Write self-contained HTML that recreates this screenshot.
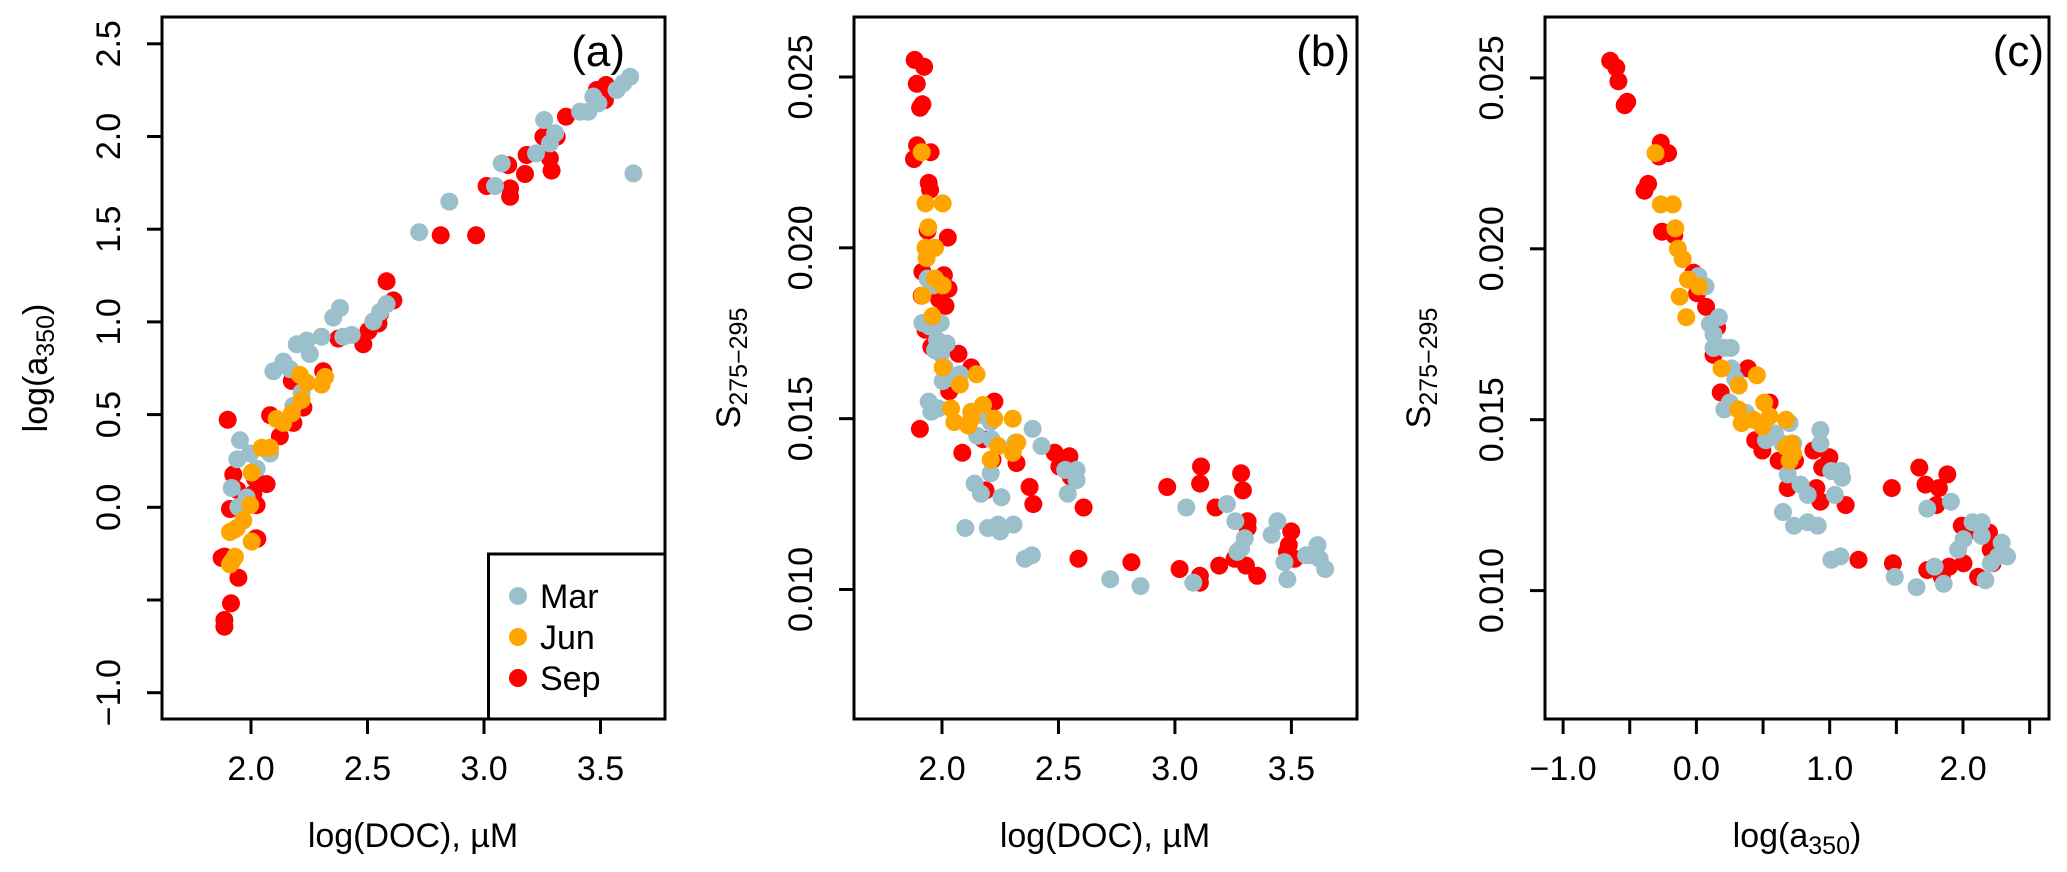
<!DOCTYPE html>
<html><head><meta charset="utf-8"><style>
html,body{margin:0;padding:0;background:#fff;}
svg{display:block;font-family:"Liberation Sans",Arial,sans-serif;}
</style></head><body>
<svg id="fig" width="2067" height="872" viewBox="0 0 2067 872" xmlns="http://www.w3.org/2000/svg"></svg>
<script>
// ---------- Panel (a): log(DOC) vs log(a350) ----------
const aMarX=[1.953,1.941,1.996,1.917,1.946,1.981,2.024,2.082,2.096,2.139,2.168,2.196,2.239,2.253,2.303,2.353,2.382,2.396,2.432,2.525,2.554,2.582,2.182,2.217,2.722,2.851,3.047,3.076,3.258,3.283,3.305,3.223,3.412,3.448,3.469,3.491,3.569,3.598,3.627,3.641];
const aMarY=[0.362,0.259,0.290,0.104,0.001,0.053,0.208,0.290,0.734,0.786,0.745,0.879,0.899,0.827,0.920,1.023,1.075,0.920,0.930,1.002,1.054,1.096,0.548,0.620,1.484,1.649,1.733,1.855,2.089,1.963,2.017,1.909,2.134,2.134,2.215,2.179,2.251,2.287,2.322,1.801];
const aJunX=[1.910,1.938,1.967,2.003,1.996,2.003,2.046,2.082,2.110,2.139,2.175,2.217,2.210,2.239,2.303,2.318,1.910,1.931,1.927,1.918];
const aJunY=[-0.133,-0.113,-0.071,-0.185,0.012,0.187,0.321,0.321,0.476,0.455,0.507,0.579,0.714,0.672,0.662,0.703,-0.308,-0.267,-0.122,-0.293];
const aSepX=[1.900,1.924,1.910,1.941,2.010,2.024,2.017,2.067,2.027,1.874,1.924,1.946,2.082,2.124,2.182,2.225,2.175,2.310,2.375,2.482,2.504,2.547,2.582,2.611,2.554,1.886,1.914,1.886,1.886,2.021,2.814,2.966,3.011,3.104,3.112,3.112,3.176,3.183,3.283,3.290,3.255,3.312,3.352,3.484,3.524,3.519];
const aSepY=[0.472,0.177,-0.009,0.094,0.073,0.012,0.156,0.125,-0.170,-0.273,-0.277,-0.380,0.497,0.383,0.455,0.538,0.682,0.734,0.910,0.879,0.951,0.992,1.219,1.116,1.044,-0.266,-0.518,-0.608,-0.644,-0.167,1.467,1.467,1.733,1.846,1.720,1.675,1.798,1.900,1.882,1.816,1.999,1.999,2.107,2.251,2.278,2.197];
const aXTicks=[2.0,2.5,3.0,3.5];
const aXLabels=["2.0","2.5","3.0","3.5"];
const aYTicks=[-1.0,-0.5,0.0,0.5,1.0,1.5,2.0,2.5];
const aYLabels=["\u22121.0","","0.0","0.5","1.0","1.5","2.0","2.5"];

// ---------- Panel (b): log(DOC) vs S275-295 ----------
const bMarX=[1.938,1.962,1.916,1.946,1.995,1.979,2.020,1.970,1.995,2.011,2.003,2.077,2.036,1.943,1.954,1.984,2.176,2.209,2.151,2.212,2.315,2.389,2.427,2.529,2.578,2.578,2.540,2.209,2.140,2.167,2.255,2.100,2.197,2.241,2.250,2.307,2.356,2.386,2.722,2.852,3.049,3.223,3.259,3.079,3.440,3.415,3.300,3.284,3.268,3.470,3.483,3.563,3.612,3.621,3.645,3.588];
const bMarY=[0.0191,0.0189,0.0178,0.0177,0.0178,0.0173,0.0172,0.0170,0.0169,0.0165,0.0161,0.0163,0.0162,0.0155,0.0152,0.0153,0.0151,0.0149,0.0145,0.0144,0.0143,0.0147,0.0142,0.0135,0.0135,0.0132,0.0128,0.0134,0.0131,0.0128,0.0127,0.0118,0.0118,0.0119,0.0117,0.0119,0.0109,0.0110,0.0103,0.0101,0.0124,0.0125,0.0120,0.0102,0.0120,0.0116,0.0115,0.0112,0.0111,0.0108,0.0103,0.0110,0.0113,0.0109,0.0106,0.0110];
const bJunX=[1.913,1.929,2.003,1.941,1.929,1.970,1.934,1.970,2.003,1.916,1.959,2.003,2.148,2.077,2.039,2.053,2.113,2.126,2.176,2.225,2.304,2.241,2.323,2.304,2.209,2.126];
const bJunY=[0.0228,0.0213,0.0213,0.0206,0.0200,0.0200,0.0197,0.0191,0.0189,0.0186,0.0180,0.0165,0.0163,0.0160,0.0153,0.0149,0.0148,0.0152,0.0154,0.0150,0.0150,0.0142,0.0143,0.0140,0.0138,0.0150];
const bSepX=[1.883,1.923,1.892,1.916,1.906,1.893,1.880,1.951,1.943,1.949,1.938,2.025,1.916,2.008,2.028,1.987,1.913,2.015,1.929,1.954,2.071,2.126,2.031,1.905,2.225,2.087,2.176,2.217,2.320,2.484,2.547,2.504,2.553,2.187,2.376,2.392,2.608,2.586,2.813,2.967,3.112,3.108,3.174,3.284,3.292,3.312,3.312,3.020,3.107,3.107,3.190,3.256,3.305,3.353,3.499,3.489,3.514,3.481];
const bSepY=[0.0255,0.0253,0.0248,0.0242,0.0241,0.0230,0.0226,0.0228,0.0219,0.0217,0.0205,0.0203,0.0193,0.0192,0.0188,0.0185,0.0186,0.0183,0.0176,0.0171,0.0169,0.0165,0.0158,0.0147,0.0155,0.0140,0.0144,0.0138,0.0137,0.0140,0.0139,0.0136,0.0133,0.0129,0.0130,0.0125,0.0124,0.0109,0.0108,0.0130,0.0136,0.0131,0.0124,0.0134,0.0129,0.0120,0.0118,0.0106,0.0104,0.0102,0.0107,0.0109,0.0107,0.0104,0.0117,0.0113,0.0109,0.0111];
const bXTicks=[2.0,2.5,3.0,3.5];
const bXLabels=["2.0","2.5","3.0","3.5"];
const sYTicks=[0.010,0.015,0.020,0.025];
const sYLabels=["0.010","0.015","0.020","0.025"];

// ---------- Panel (c): log(a350) vs S275-295 ----------
const cMarX=[0.014,0.068,0.101,0.169,0.128,0.128,0.209,0.258,0.264,0.291,0.250,0.209,0.373,0.590,0.699,0.522,0.645,0.726,0.685,0.781,0.835,0.930,0.930,1.012,1.085,1.093,1.039,0.650,0.732,0.835,0.911,1.012,1.080,1.488,1.651,1.732,1.909,1.787,1.855,1.963,2.004,2.072,2.140,2.140,2.168,2.208,2.263,2.290,2.331];
const cMarY=[0.0192,0.0189,0.0178,0.0180,0.0175,0.0171,0.0171,0.0171,0.0165,0.0162,0.0155,0.0153,0.0152,0.0146,0.0149,0.0144,0.0143,0.0143,0.0134,0.0131,0.0128,0.0147,0.0143,0.0135,0.0135,0.0133,0.0128,0.0123,0.0119,0.0120,0.0119,0.0109,0.0110,0.0104,0.0101,0.0124,0.0126,0.0107,0.0102,0.0112,0.0115,0.0120,0.0120,0.0116,0.0103,0.0108,0.0110,0.0114,0.0110];
const cJunX=[-0.307,-0.267,-0.177,-0.158,-0.139,-0.103,-0.063,0.019,-0.125,-0.076,0.188,0.454,0.318,0.509,0.313,0.340,0.427,0.549,0.672,0.495,0.713,0.672,0.726,0.699];
const cJunY=[0.0228,0.0213,0.0213,0.0206,0.0200,0.0197,0.0191,0.0189,0.0186,0.0180,0.0165,0.0163,0.0160,0.0155,0.0153,0.0149,0.0150,0.0151,0.0150,0.0148,0.0143,0.0142,0.0140,0.0138];
const cSepX=[-0.647,-0.601,-0.585,-0.538,-0.519,-0.267,-0.280,-0.212,-0.389,-0.362,-0.258,-0.166,-0.022,0.005,0.073,0.128,0.155,0.182,0.386,0.549,0.441,0.495,0.617,0.740,0.878,0.944,0.998,0.685,0.900,0.930,1.120,1.216,1.466,1.474,1.672,1.719,1.819,1.882,1.800,1.732,1.841,1.896,2.004,1.991,2.026,2.113,2.195,2.208,2.222];
const cSepY=[0.0255,0.0253,0.0249,0.0242,0.0243,0.0231,0.0227,0.0228,0.0217,0.0219,0.0205,0.0204,0.0193,0.0187,0.0183,0.0169,0.0177,0.0158,0.0165,0.0155,0.0144,0.0141,0.0138,0.0138,0.0141,0.0136,0.0139,0.0130,0.0130,0.0126,0.0125,0.0109,0.0130,0.0108,0.0136,0.0131,0.0130,0.0134,0.0125,0.0106,0.0104,0.0107,0.0108,0.0119,0.0117,0.0104,0.0117,0.0112,0.0108];
const cXTicks=[-1.0,-0.5,0.0,0.5,1.0,1.5,2.0,2.5];
const cXLabels=["\u22121.0","","0.0","","1.0","","2.0",""];

const legendLabels=["Mar","Jun","Sep"];
const COL={Mar:"#9bc0cc",Jun:"#ffa500",Sep:"#ff0000"};
const R=9;

const NS="http://www.w3.org/2000/svg";
const svg=document.getElementById('fig');
function mk(tag,attrs,parent,text){const e=document.createElementNS(NS,tag);for(const k in attrs)e.setAttribute(k,attrs[k]);if(text!==undefined)e.textContent=text;(parent||svg).appendChild(e);return e;}
function lin(d0,d1,r0,r1){return v=>r0+(v-d0)*(r1-r0)/(d1-d0);}

const TOP=17,BOT=719;
function panel(id,left,right,sx,sy,xTicks,xLabels,yTicks,yLabels,yTickX,series,tag,tagX){
  const g=mk('g',{});
  
  
  series.forEach(s=>{
    const sg=mk('g',{},g);
    
    
    for(let i=0;i<s.x.length;i++){
      const c=mk('circle',{cx:sx(s.x[i]).toFixed(1),cy:sy(s.y[i]).toFixed(1),r:R,fill:COL[s.name]},sg);
      
      
    }
  });
  const box=mk('rect',{x:left,y:TOP,width:right-left,height:BOT-TOP,fill:'none',stroke:'#000','stroke-width':3},g);
  
  
  const xa=mk('g',{},g);
  
  
  xTicks.forEach((t,i)=>{
    const x=sx(t);
    mk('line',{x1:x,x2:x,y1:BOT,y2:BOT+15,stroke:'#000','stroke-width':3},xa);
    if(xLabels[i]){const tx=mk('text',{x:x,y:780,'font-size':34,'text-anchor':'middle'},xa,xLabels[i]);
      
      }
  });
  const ya=mk('g',{},g);
  
  
  yTicks.forEach((t,i)=>{
    const y=sy(t);
    mk('line',{x1:left,x2:left-15,y1:y,y2:y,stroke:'#000','stroke-width':3},ya);
    if(yLabels[i]){const tx=mk('text',{x:yTickX,y:y,'font-size':34,'text-anchor':'middle',transform:`rotate(-90 ${yTickX} ${y})`},ya,yLabels[i]);
      
      }
  });
  const tg=mk('text',{x:tagX,y:66,'font-size':44,'text-anchor':'end'},g,tag);
  
  
  return g;
}

const axA=lin(2.0,3.5,251,600.5), ayA=lin(0,2.5,507.3,43.8);
panel('a',162,665,axA,ayA,aXTicks,aXLabels,aYTicks,aYLabels,120,
  [{name:'Sep',x:aSepX,y:aSepY},{name:'Mar',x:aMarX,y:aMarY},{name:'Jun',x:aJunX,y:aJunY}],'(a)',625);
const axB=lin(2.0,3.5,942,1291.4), ayB=lin(0.010,0.025,589.5,77);
panel('b',854,1357,axB,ayB,bXTicks,bXLabels,sYTicks,sYLabels,812,
  [{name:'Sep',x:bSepX,y:bSepY},{name:'Mar',x:bMarX,y:bMarY},{name:'Jun',x:bJunX,y:bJunY}],'(b)',1350);
const axC=lin(0,2.0,1696.4,1963), ayC=lin(0.010,0.025,590.6,77.9);
panel('c',1545,2049,axC,ayC,cXTicks,cXLabels,sYTicks,sYLabels,1503,
  [{name:'Sep',x:cSepX,y:cSepY},{name:'Mar',x:cMarX,y:cMarY},{name:'Jun',x:cJunX,y:cJunY}],'(c)',2044);

function xTitle(cx,name,html){const t=mk('text',{x:cx,y:847,'font-size':34,'text-anchor':'middle'});t.innerHTML=html;
  
  }
xTitle(413,'x-axis-title-a','log(DOC), µM');
xTitle(1105,'x-axis-title-b','log(DOC), µM');
xTitle(1797,'x-axis-title-c','log(a<tspan font-size="25" dy="7">350</tspan><tspan dy="-7">)</tspan>');
function yTitle(x,name,html){const t=mk('text',{x:x,y:368,'font-size':34,'text-anchor':'middle',transform:`rotate(-90 ${x} 368)`});t.innerHTML=html;
  
  }
yTitle(47,'y-axis-title-a','log(a<tspan font-size="25" dy="7">350</tspan><tspan dy="-7">)</tspan>');
yTitle(740,'y-axis-title-b','S<tspan font-size="25" dy="7">275\u2212295</tspan>');
yTitle(1430,'y-axis-title-c','S<tspan font-size="25" dy="7">275\u2212295</tspan>');

const lg=mk('g',{});


mk('rect',{x:488.5,y:554,width:176.5,height:165,fill:'#fff',stroke:'#000','stroke-width':3},lg);
legendLabels.forEach((lab,i)=>{
  const y=596+i*41;
  const c=mk('circle',{cx:518,cy:y,r:R,fill:COL[lab]},lg);
  
  
  const t=mk('text',{x:540,y:y+12,'font-size':34},lg,lab);
  
  
});
</script>
</body></html>
